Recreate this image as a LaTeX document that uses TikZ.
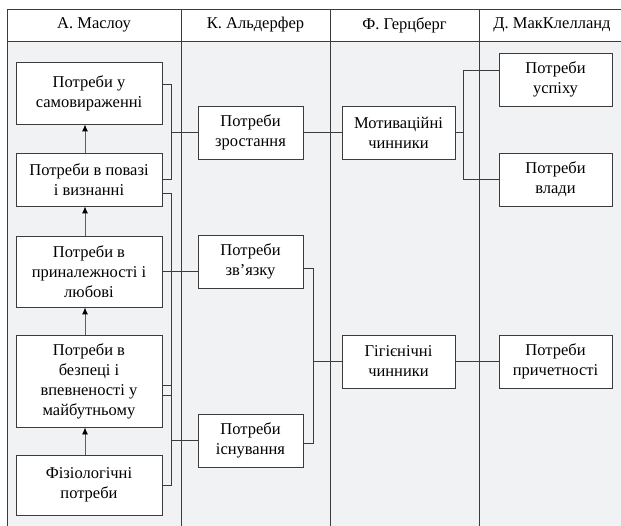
\documentclass[tikz,border=0pt]{standalone}
\usepackage{fontspec}
\setmainfont{Liberation Serif}
\usepackage{tikz}
\usetikzlibrary{arrows.meta}
\pgfdeclarelayer{backlayer}
\pgfdeclarelayer{edgelayer}
\pgfdeclarelayer{nodelayer}
\pgfsetlayers{backlayer,edgelayer,nodelayer,main}
\definecolor{panelgrey}{RGB}{241,242,244}
\definecolor{framegrey}{RGB}{60,60,60}
\tikzstyle{column_title}=[inner sep=0pt, font=\fontsize{16.5}{20}\selectfont]
\tikzstyle{need_box}=[fill=white, draw=framegrey, line width=0.9pt, shape=rectangle, align=center, inner sep=0pt, font=\fontsize{16.5}{20}\selectfont]
\tikzstyle{maslow_box}=[need_box, minimum width=146pt]
\tikzstyle{alderfer_box}=[need_box, minimum width=105pt, minimum height=53pt]
\tikzstyle{herzberg_box}=[need_box, minimum width=113pt, minimum height=53pt]
\tikzstyle{frame_line}=[-, draw=framegrey, line width=0.9pt]
\tikzstyle{main_connector}=[-, draw=framegrey, line width=0.7pt]
\tikzstyle{level_arrow}=[-{Latex[length=7pt, width=6pt, color=black]}, draw={rgb,255: red,95; green,95; blue,95}, line width=0.9pt]

\begin{document}
\begin{tikzpicture}[x=1pt, y=-1pt]
    \useasboundingbox (0, 0) rectangle (621, 526);
    \begin{pgfonlayer}{backlayer}
        % table frame
        \fill [panelgrey] (7, 41) rectangle (621, 526);
        \draw [style={frame_line}] (7, 9) -- (621, 9);
        \draw [style={frame_line}] (7, 41) -- (621, 41);
        \draw [style={frame_line}] (7, 9) -- (7, 526);
        \draw [style={frame_line}] (181, 9) -- (181, 526);
        \draw [style={frame_line}] (330, 9) -- (330, 526);
        \draw [style={frame_line}] (479, 9) -- (479, 526);
    \end{pgfonlayer}
    \begin{pgfonlayer}{nodelayer}
        % column titles
        \node [style={column_title}] (41) at (94, 25) {А. Маслоу};
        \node [style={column_title}] (42) at (255.5, 25) {К. Альдерфер};
        \node [style={column_title}] (43) at (404.5, 25) {Ф. Герцберг};
        \node [style={column_title}] (44) at (552, 25) {Д. МакКлелланд};

        % Maslow
        \node [style={maslow_box}, minimum height=62pt] (1) at (89, 93) {Потреби у\\самовираженні};
        \node [style={maslow_box}, minimum height=53pt] (2) at (89, 179.5) {Потреби в повазі\\і визнанні};
        \node [style={maslow_box}, minimum height=71pt] (3) at (89, 271.5) {Потреби в\\приналежності і\\любові};
        \node [style={maslow_box}, minimum height=92pt] (4) at (89, 381) {Потреби в\\безпеці і\\впевненості у\\майбутньому};
        \node [style={maslow_box}, minimum height=60pt] (5) at (89, 485) {Фізіологічні\\потреби};

        % Alderfer
        \node [style={alderfer_box}] (11) at (250.5, 132.5) {Потреби\\зростання};
        \node [style={alderfer_box}] (12) at (250.5, 261.5) {Потреби\\зв’язку};
        \node [style={alderfer_box}] (13) at (250.5, 440.5) {Потреби\\існування};

        % Herzberg
        \node [style={herzberg_box}] (21) at (398.5, 132.5) {Мотиваційні\\чинники};
        \node [style={herzberg_box}] (22) at (398.5, 361.5) {Гігієнічні\\чинники};

        % McClelland
        \node [style={herzberg_box}] (31) at (555.5, 79.5) {Потреби\\успіху};
        \node [style={herzberg_box}] (32) at (555.5, 179.5) {Потреби\\влади};
        \node [style={herzberg_box}] (33) at (555.5, 361.5) {Потреби\\причетності};
    \end{pgfonlayer}
    \begin{pgfonlayer}{edgelayer}
        % Maslow levels
        \draw [style={level_arrow}] ([xshift=-4pt]5.north) to ([xshift=-4pt]4.south);
        \draw [style={level_arrow}] ([xshift=-4pt]4.north) to ([xshift=-4pt]3.south);
        \draw [style={level_arrow}] ([xshift=-4pt]3.north) to ([xshift=-4pt]2.south);
        \draw [style={level_arrow}] ([xshift=-4pt]2.north) to ([xshift=-4pt]1.south);

        % Maslow to Alderfer
        \draw [style={main_connector}] ([yshift=9pt]1.east) -- ++(9, 0) |- (2.east);
        \draw [style={main_connector}] (11.west) -- ++(-27, 0);
        \draw [style={main_connector}] ([yshift=-13.5pt]2.east) -- ++(9, 0) |- ([yshift=-14pt]4.east);
        \draw [style={main_connector}] (3.east) -- (3.east -| 12.west);
        \draw [style={main_connector}] ([yshift=-4pt]4.east) -- ++(9, 0) |- (5.east);
        \draw [style={main_connector}] (13.west) -- ++(-27, 0);

        % Alderfer to Herzberg
        \draw [style={main_connector}] (11.east) to (21.west);
        \draw [style={main_connector}] ([yshift=-6.5pt]12.east) -- ++(10, 0) |- ([yshift=-2.5pt]13.east);
        \draw [style={main_connector}] (22.west) -- ++(-29, 0);

        % Herzberg to McClelland
        \draw [style={main_connector}] ([yshift=9.5pt]31.west) -- ++(-35, 0) |- (32.west);
        \draw [style={main_connector}] (21.east) -- ++(9, 0);
        \draw [style={main_connector}] (22.east) to (33.west);
    \end{pgfonlayer}
\end{tikzpicture}
\end{document}
